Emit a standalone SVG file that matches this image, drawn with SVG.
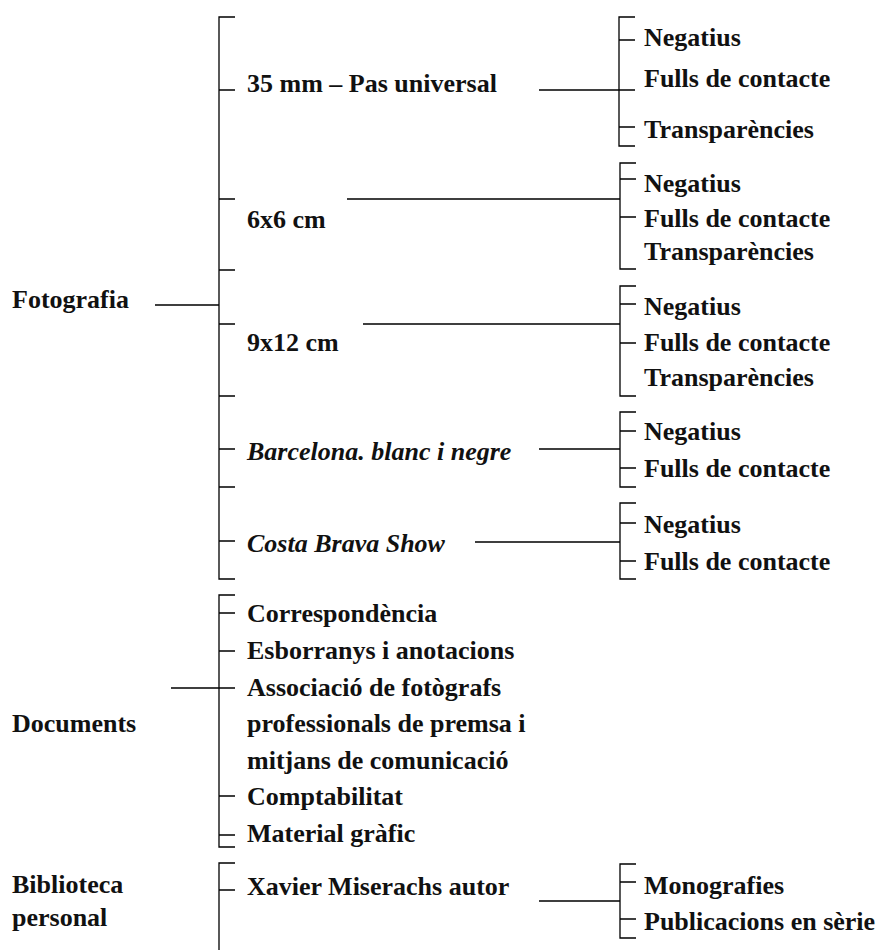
<svg xmlns="http://www.w3.org/2000/svg" width="885" height="950" viewBox="0 0 885 950">
<style>
text{font-family:"Liberation Serif","Times New Roman",serif;font-size:26px;font-weight:bold;fill:#111}
.it{font-style:italic}
#connectors path{fill:none;stroke:#000;stroke-width:1.3}
</style>
<rect width="885" height="950" fill="#fff"/>
<g id="connectors">
<path d="M235,17H219V579H235M219,90H235M219,199H235M219,270H235M219,324H235M219,396H235M219,449H235M219,487H235M219,541H235M155,305H219"/>
<path d="M635,17H619V146H635M619,40H635M619,127H635M539,90H635"/>
<path d="M636,163H620V269H636M620,179H636M620,217H636M347,199H620"/>
<path d="M636,286H620V396H636M620,304H636M620,343H636M363,324H620"/>
<path d="M636,412H620V487H636M620,431H636M620,468H636M539,449H620"/>
<path d="M636,503H620V579H636M620,523H636M620,561H636M475,542H620"/>
<path d="M235,595H219V847H235M219,613H235M219,651H235M219,796H235M219,835H235M171,688H235"/>
<path d="M235,863H219V950M219,890H235"/>
<path d="M636,864H620V938H636M620,882H636M620,919H636M539,901H620"/>
</g>
<g id="fotografia"><text x="12" y="308">Fotografia</text></g>
<g id="f35"><text x="247" y="92">35 mm – Pas universal</text></g>
<g id="f35-children"><text x="644" y="46">Negatius</text><text x="644" y="87">Fulls de contacte</text><text x="644" y="138">Transparències</text></g>
<g id="f6x6"><text x="247" y="228">6x6 cm</text></g>
<g id="f6x6-children"><text x="644" y="192">Negatius</text><text x="644" y="227">Fulls de contacte</text><text x="644" y="260">Transparències</text></g>
<g id="f9x12"><text x="247" y="351">9x12 cm</text></g>
<g id="f9x12-children"><text x="644" y="315">Negatius</text><text x="644" y="351">Fulls de contacte</text><text x="644" y="386">Transparències</text></g>
<g id="barcelona"><text class="it" x="247" y="460">Barcelona. blanc i negre</text></g>
<g id="barcelona-children"><text x="644" y="440">Negatius</text><text x="644" y="477">Fulls de contacte</text></g>
<g id="costabrava"><text class="it" x="247" y="552">Costa Brava Show</text></g>
<g id="costabrava-children"><text x="644" y="533">Negatius</text><text x="644" y="570">Fulls de contacte</text></g>
<g id="documents"><text x="12" y="732">Documents</text></g>
<g id="documents-children">
<text x="247" y="622">Correspondència</text>
<text x="247" y="659">Esborranys i anotacions</text>
<text x="247" y="696">Associació de fotògrafs</text>
<text x="247" y="732">professionals de premsa i</text>
<text x="247" y="769">mitjans de comunicació</text>
<text x="247" y="805">Comptabilitat</text>
<text x="247" y="842">Material gràfic</text>
</g>
<g id="biblioteca"><text x="12" y="893">Biblioteca</text><text x="12" y="926">personal</text></g>
<g id="xavier"><text x="247" y="895">Xavier Miserachs autor</text></g>
<g id="xavier-children"><text x="644" y="894">Monografies</text><text x="644" y="930">Publicacions en sèrie</text></g>
</svg>
